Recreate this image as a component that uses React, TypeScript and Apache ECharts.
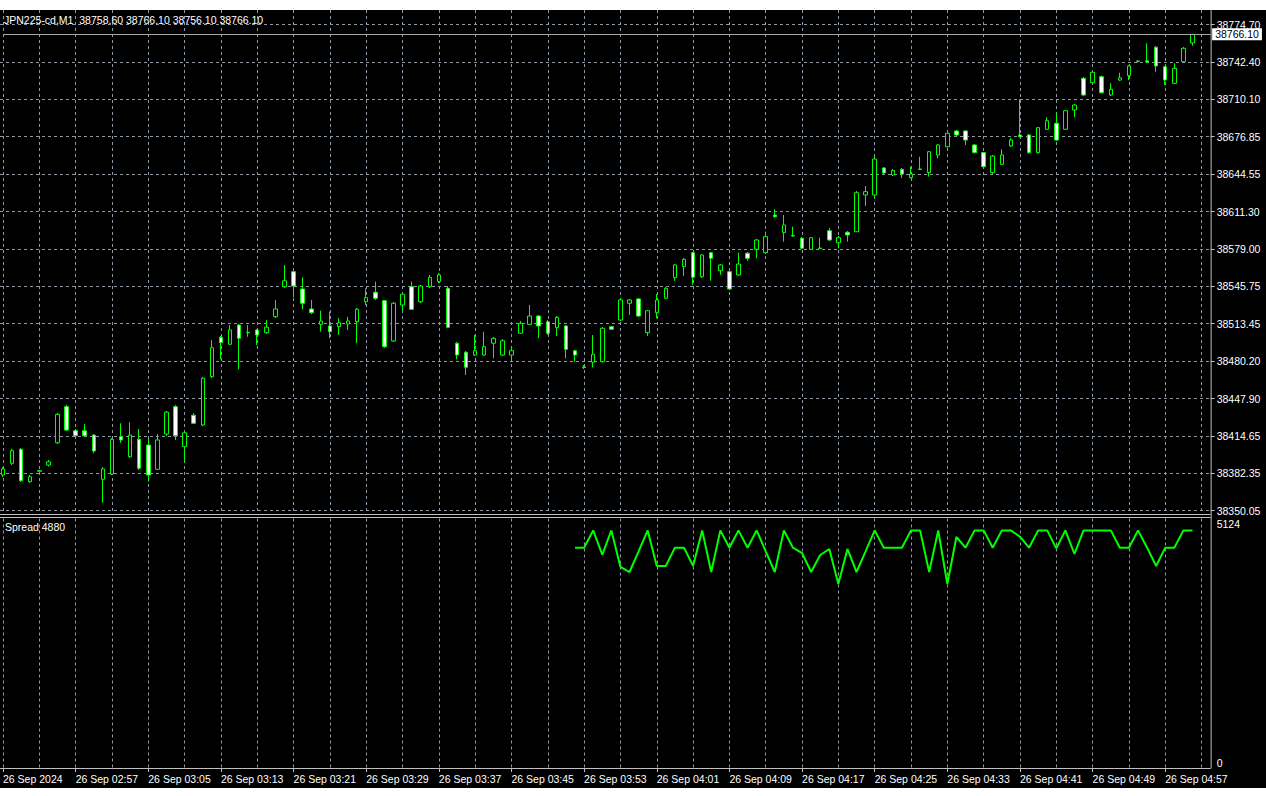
import React, { useEffect, useRef } from "react";
import * as echarts from "echarts";

const SYMBOL = "JPN225-cd,M1";
const DATE_LABEL = "26 Sep 2024";
const DAY_PREFIX = "26 Sep ";
const START_MINUTE = 2 * 60 + 49; // first bar 02:49
const EXTRA_SLOTS = 2; // empty slots right of the last bar

const OPEN = [
  38381.2, 38391.4, 38403.7, 38375.4, 38384.5, 38389.9, 38409.4, 38440.9, 38419.9, 38419.9,
  38416.1, 38377.5, 38382.1, 38414.7, 38397.2, 38412.4, 38407.4, 38386.2, 38417.0, 38440.9,
  38406.0, 38433.4, 38424.9, 38467.1, 38501.5, 38495.4, 38512.2, 38505.9, 38507.9, 38505.5,
  38519.5, 38545.7, 38558.8, 38543.7, 38526.2, 38512.8, 38511.4, 38510.8, 38513.1, 38515.1,
  38532.6, 38540.8, 38533.5, 38498.3, 38529.7, 38545.7, 38532.6, 38545.7, 38550.1, 38544.3,
  38496.3, 38488.4, 38486.0, 38486.0, 38496.3, 38486.0, 38486.0, 38505.0, 38512.8, 38520.1,
  38515.1, 38509.9, 38511.4, 38489.8, 38475.6, 38479.7, 38480.2, 38510.8, 38516.6, 38531.2,
  38535.0, 38505.5, 38523.0, 38535.6, 38553.6, 38563.2, 38575.4, 38554.4, 38575.4, 38559.7,
  38558.8, 38556.0, 38574.9, 38578.4, 38575.4, 38608.3, 38592.9, 38590.4, 38588.0, 38578.4,
  38579.5, 38594.6, 38584.1, 38593.2, 38593.7, 38625.8, 38625.8, 38649.4, 38643.3, 38648.2,
  38640.9, 38648.5, 38645.3, 38660.7, 38667.9, 38681.7, 38681.7, 38669.5, 38662.8, 38645.3,
  38652.6, 38668.6, 38678.2, 38678.2, 38662.8, 38683.2, 38688.4, 38683.2, 38700.0, 38727.7,
  38723.9, 38729.1, 38713.1, 38726.2, 38730.0, 38742.4, 38743.1, 38754.8, 38737.8, 38723.3,
  38742.2, 38758.6,
];
const CLOSE = [
  38386.5, 38402.5, 38376.3, 38379.7, 38385.0, 38392.8, 38434.2, 38420.5, 38415.5, 38415.5,
  38402.2, 38386.5, 38412.4, 38411.8, 38416.1, 38387.1, 38381.2, 38411.8, 38436.1, 38415.5,
  38418.1, 38426.4, 38465.7, 38492.4, 38496.8, 38507.9, 38500.6, 38505.5, 38503.5, 38510.3,
  38526.2, 38550.9, 38546.3, 38531.2, 38523.0, 38515.7, 38506.4, 38514.2, 38515.7, 38526.0,
  38536.1, 38535.6, 38493.3, 38531.2, 38539.1, 38525.9, 38546.3, 38553.9, 38556.0, 38510.2,
  38486.0, 38475.3, 38489.8, 38493.3, 38500.6, 38498.5, 38489.8, 38513.7, 38520.1, 38511.4,
  38505.0, 38518.9, 38491.0, 38486.0, 38475.1, 38486.7, 38509.4, 38508.5, 38534.1, 38534.1,
  38520.1, 38524.7, 38534.1, 38544.3, 38564.7, 38569.6, 38553.9, 38573.4, 38570.5, 38564.7,
  38543.7, 38565.5, 38570.5, 38586.5, 38589.4, 38606.8, 38599.6, 38590.0, 38579.3, 38588.5,
  38579.1, 38586.5, 38588.5, 38590.9, 38627.8, 38628.7, 38657.2, 38645.0, 38647.2, 38644.1,
  38644.1, 38648.1, 38663.6, 38669.5, 38679.7, 38678.2, 38673.8, 38662.8, 38650.5, 38659.8,
  38660.7, 38673.8, 38676.7, 38662.8, 38684.6, 38690.7, 38673.8, 38699.4, 38704.4, 38713.1,
  38733.0, 38715.1, 38718.1, 38728.2, 38738.5, 38742.8, 38742.0, 38738.5, 38726.2, 38736.4,
  38753.9, 38766.1,
];
const LOW = [
  38379.5, 38390.0, 38375.1, 38374.3, 38383.9, 38388.7, 38408.3, 38419.7, 38414.4, 38414.4,
  38400.2, 38357.0, 38381.2, 38409.4, 38396.1, 38385.6, 38375.4, 38385.6, 38415.3, 38411.8,
  38392.8, 38425.8, 38424.0, 38465.9, 38482.3, 38494.8, 38473.5, 38502.0, 38494.8, 38504.4,
  38518.3, 38544.5, 38536.4, 38525.9, 38521.8, 38506.4, 38500.6, 38503.5, 38507.9, 38496.3,
  38529.7, 38534.1, 38492.2, 38497.4, 38523.9, 38525.3, 38531.5, 38544.5, 38548.9, 38509.6,
  38482.3, 38468.6, 38485.2, 38485.2, 38483.2, 38485.2, 38480.2, 38504.4, 38512.2, 38500.6,
  38503.5, 38502.6, 38483.2, 38480.2, 38473.8, 38475.3, 38479.5, 38507.9, 38515.7, 38521.0,
  38519.2, 38502.6, 38518.1, 38535.0, 38550.9, 38555.1, 38547.2, 38553.3, 38550.9, 38556.0,
  38542.8, 38555.1, 38568.4, 38570.5, 38574.3, 38606.1, 38585.0, 38589.4, 38578.6, 38577.7,
  38578.6, 38585.6, 38579.3, 38585.0, 38593.5, 38616.2, 38624.1, 38644.1, 38642.4, 38640.6,
  38640.2, 38647.6, 38641.8, 38657.8, 38667.3, 38677.3, 38669.5, 38662.0, 38649.1, 38644.1,
  38652.0, 38667.7, 38676.0, 38662.0, 38662.0, 38682.6, 38673.0, 38682.6, 38693.7, 38712.3,
  38722.7, 38714.4, 38712.3, 38725.4, 38726.2, 38741.5, 38741.1, 38733.5, 38721.9, 38722.7,
  38741.5, 38756.1,
];
const HIGH = [
  38388.2, 38404.0, 38404.9, 38381.2, 38385.6, 38394.3, 38435.4, 38442.4, 38421.4, 38425.8,
  38417.0, 38388.2, 38413.5, 38426.4, 38427.3, 38421.4, 38412.7, 38417.0, 38437.1, 38442.4,
  38419.7, 38435.1, 38466.8, 38499.1, 38502.6, 38512.2, 38513.1, 38512.2, 38508.7, 38516.6,
  38534.1, 38564.7, 38560.3, 38553.9, 38534.1, 38524.7, 38524.0, 38518.4, 38519.5, 38527.1,
  38544.3, 38550.1, 38534.1, 38532.3, 38540.2, 38550.1, 38547.2, 38556.0, 38557.7, 38546.3,
  38497.4, 38489.5, 38503.5, 38506.4, 38501.8, 38500.0, 38491.9, 38515.7, 38529.7, 38521.0,
  38516.6, 38520.1, 38512.2, 38490.4, 38477.3, 38503.5, 38510.5, 38511.4, 38535.8, 38535.0,
  38535.8, 38525.3, 38539.3, 38545.4, 38565.5, 38570.8, 38576.0, 38574.3, 38576.0, 38565.5,
  38560.3, 38575.4, 38576.0, 38587.4, 38593.7, 38613.3, 38608.3, 38598.1, 38589.1, 38589.1,
  38588.5, 38597.0, 38590.0, 38594.3, 38629.3, 38633.6, 38659.0, 38650.2, 38648.5, 38649.4,
  38650.5, 38659.2, 38664.2, 38670.3, 38680.8, 38682.6, 38682.6, 38670.3, 38663.3, 38660.7,
  38665.7, 38675.6, 38709.4, 38679.1, 38685.2, 38693.7, 38697.7, 38700.0, 38705.3, 38728.8,
  38734.1, 38730.2, 38723.4, 38732.6, 38739.3, 38743.7, 38758.3, 38755.9, 38738.5, 38740.8,
  38755.1, 38766.1,
];

const PRICE_LABELS = [
  "38350.05", "38382.35", "38414.65", "38447.90", "38480.20", "38513.45", "38545.75",
  "38579.00", "38611.30", "38644.55", "38676.85", "38710.10", "38742.40", "38774.70",
];

const SPREAD_START = 63; // bar index of the first spread value (03:52)
const SPREAD = [
  4525, 4525, 4880, 4380, 4880, 4128, 4025, 4450, 4880, 4148,
  4148, 4525, 4525, 4148, 4880, 4025, 4880, 4525, 4880, 4525,
  4880, 4450, 4025, 4880, 4525, 4415, 4025, 4374, 4498, 3779,
  4498, 4025, 4450, 4880, 4525, 4525, 4525, 4880, 4880, 4025,
  4880, 3779, 4744, 4525, 4880, 4880, 4525, 4880, 4880, 4750,
  4525, 4880, 4880, 4510, 4880, 4395, 4880, 4880, 4880, 4880,
  4525, 4525, 4880, 4525, 4148, 4525, 4525, 4880, 4880,
];
const SPREAD_MAX = 5124;

const pad2 = (n: number) => String(n).padStart(2, "0");
const CATEGORIES: string[] = Array.from({ length: OPEN.length + EXTRA_SLOTS }, (_, i) => {
  const m = START_MINUTE + i;
  return pad2(Math.floor(m / 60)) + ":" + pad2(m % 60);
});

// layout
const W_PAGE = 1266;
const H_PAGE = 796;
const X0 = 3;
const STEP = 9.08;
const PLOT_W = (CATEGORIES.length - 1) * STEP;
const RIGHT = X0 + PLOT_W;
const MAIN_TOP = 10;
const MAIN_BOTTOM = 514;
const TICK_TOP = 24.5;
const TICK_BOTTOM = 510.7;
const SUB_TOP = 518.5;
const SUB_BOTTOM = 768;
const BLACK_BOTTOM = 788;

const P_FIRST = parseFloat(PRICE_LABELS[0]);
const P_LAST = parseFloat(PRICE_LABELS[PRICE_LABELS.length - 1]);
const PER_PX = (P_LAST - P_FIRST) / (TICK_BOTTOM - TICK_TOP);
const P_MIN = P_FIRST - (MAIN_BOTTOM - TICK_BOTTOM) * PER_PX;
const P_MAX = P_LAST + (TICK_TOP - MAIN_TOP) * PER_PX;

const GREEN = "#00ff00";
const GRID_COLOR = "#8e99a5";
const BORDER = "#c0c0c0";
const FONT = "'Liberation Sans', Arial, sans-serif";
const FS = 10.5;

export default function App() {
  const ref = useRef<HTMLDivElement>(null);

  useEffect(() => {
    if (!ref.current) return;
    const chart = echarts.init(ref.current, null, { renderer: "svg" });
    const n = OPEN.length;
    const last = n - 1;
    const title =
      SYMBOL + "  " +
      [OPEN[last], HIGH[last], LOW[last], CLOSE[last]].map((v) => v.toFixed(2)).join(" ");
    const spreadData = CATEGORIES.map((_, i) =>
      i >= SPREAD_START && i - SPREAD_START < SPREAD.length ? SPREAD[i - SPREAD_START] : null
    );
    const vSplit = {
      show: true,
      interval: (i: number) => i % 4 === 0,
      lineStyle: { color: GRID_COLOR, type: [3, 3], width: 1 },
    };
    const hline = (y: number, x1: number, x2: number, color = BORDER) => ({
      type: "line",
      silent: true,
      z: 50,
      shape: { x1, y1: y, x2, y2: y },
      style: { stroke: color, lineWidth: 1 },
    });

    chart.setOption({
      animation: false,
      backgroundColor: "#000",
      grid: [
        { left: X0, top: MAIN_TOP, width: PLOT_W, height: MAIN_BOTTOM - MAIN_TOP, outerBoundsMode: "none" },
        { left: 0, top: TICK_TOP, width: RIGHT, height: TICK_BOTTOM - TICK_TOP, outerBoundsMode: "none" },
        { left: X0, top: SUB_TOP, width: PLOT_W, height: SUB_BOTTOM - SUB_TOP, outerBoundsMode: "none" },
      ],
      xAxis: [
        {
          type: "category", gridIndex: 0, data: CATEGORIES, boundaryGap: false,
          axisLine: { show: false }, axisTick: { show: false }, axisLabel: { show: false },
          splitLine: vSplit,
        },
        { type: "category", gridIndex: 1, data: CATEGORIES, show: false },
        {
          type: "category", gridIndex: 2, data: CATEGORIES, boundaryGap: false, position: "bottom",
          axisLine: { show: false },
          axisTick: { show: true, interval: (i: number) => i % 8 === 0, length: 4, lineStyle: { color: BORDER } },
          axisLabel: {
            show: true,
            interval: (i: number) => i % 8 === 0,
            formatter: (v: string, i: number) => (i === 0 ? DATE_LABEL : DAY_PREFIX + v),
            align: "left",
            color: "#ffffff",
            margin: 5,
            fontFamily: FONT,
            fontSize: FS,
          },
          splitLine: vSplit,
        },
      ],
      yAxis: [
        { type: "value", gridIndex: 0, min: P_MIN, max: P_MAX, show: false },
        {
          type: "category", gridIndex: 1, data: PRICE_LABELS, boundaryGap: false, position: "right",
          axisLine: { show: false },
          axisTick: { show: true, length: 4, interval: 0, lineStyle: { color: BORDER } },
          axisLabel: { interval: 0, color: "#ffffff", margin: 6, fontFamily: FONT, fontSize: FS },
          splitLine: { show: true, interval: 0, lineStyle: { color: GRID_COLOR, type: [3, 3], width: 1 } },
        },
        {
          type: "value", gridIndex: 2, min: 0, max: SPREAD_MAX, interval: SPREAD_MAX, position: "right",
          axisLine: { show: false }, axisTick: { show: false }, splitLine: { show: false },
          axisLabel: {
            color: "#ffffff", margin: 6, fontFamily: FONT, fontSize: FS,
            formatter: (v: number) => String(Math.round(v)),
            verticalAlignMaxLabel: "top", verticalAlignMinLabel: "bottom",
          },
        },
      ],
      series: [
        {
          type: "candlestick",
          xAxisIndex: 0,
          yAxisIndex: 0,
          barWidth: 4,
          clip: false,
          data: OPEN.map((o, i) => [o, CLOSE[i], LOW[i], HIGH[i]]),
          itemStyle: {
            color: "#000000",
            color0: "#ffffff",
            borderColor: GREEN,
            borderColor0: GREEN,
            borderColorDoji: GREEN,
            borderWidth: 1,
          },
          markLine: {
            silent: true,
            symbol: ["none", "none"],
            animation: false,
            data: [{ yAxis: CLOSE[last] }],
            lineStyle: { color: "#a9a9a9", width: 1, type: "solid" },
            label: {
              show: true,
              position: "end",
              distance: 1.5,
              formatter: () => CLOSE[last].toFixed(2),
              color: "#000000",
              backgroundColor: "#ffffff",
              padding: [1, 3, 0, 3],
              fontFamily: FONT,
              fontSize: FS,
            },
          },
        },
        {
          type: "line",
          xAxisIndex: 2,
          yAxisIndex: 2,
          data: spreadData,
          symbol: "none",
          showSymbol: false,
          connectNulls: false,
          clip: false,
          lineStyle: { color: GREEN, width: 2 },
        },
      ],
      graphic: [
        { type: "rect", silent: true, z: 100, shape: { x: 0, y: 0, width: W_PAGE, height: MAIN_TOP }, style: { fill: "#ffffff" } },
        { type: "rect", silent: true, z: 100, shape: { x: 0, y: BLACK_BOTTOM, width: W_PAGE, height: H_PAGE - BLACK_BOTTOM }, style: { fill: "#ffffff" } },
        hline(MAIN_BOTTOM + 0.5, 0, RIGHT),
        hline(517.5, 0, RIGHT),
        hline(SUB_BOTTOM + 0.5, 0, RIGHT),
        {
          type: "line", silent: true, z: 50,
          shape: { x1: RIGHT + 0.5, y1: MAIN_TOP, x2: RIGHT + 0.5, y2: SUB_BOTTOM + 0.5 },
          style: { stroke: BORDER, lineWidth: 1 },
        },
        {
          type: "text", silent: true, z: 60, x: 4, y: 20,
          style: { text: title, fill: "#ffffff", fontFamily: FONT, fontSize: FS, verticalAlign: "middle", align: "left" },
        },
        {
          type: "text", silent: true, z: 60, x: 5, y: 527,
          style: {
            text: "Spread " + SPREAD[SPREAD.length - 1],
            fill: "#ffffff", fontFamily: FONT, fontSize: FS, verticalAlign: "middle", align: "left",
          },
        },
      ],
    });
    return () => chart.dispose();
  }, []);

  return (
    <div
      ref={ref}
      style={{ position: "absolute", left: 0, top: 0, width: W_PAGE, height: H_PAGE }}
    />
  );
}
